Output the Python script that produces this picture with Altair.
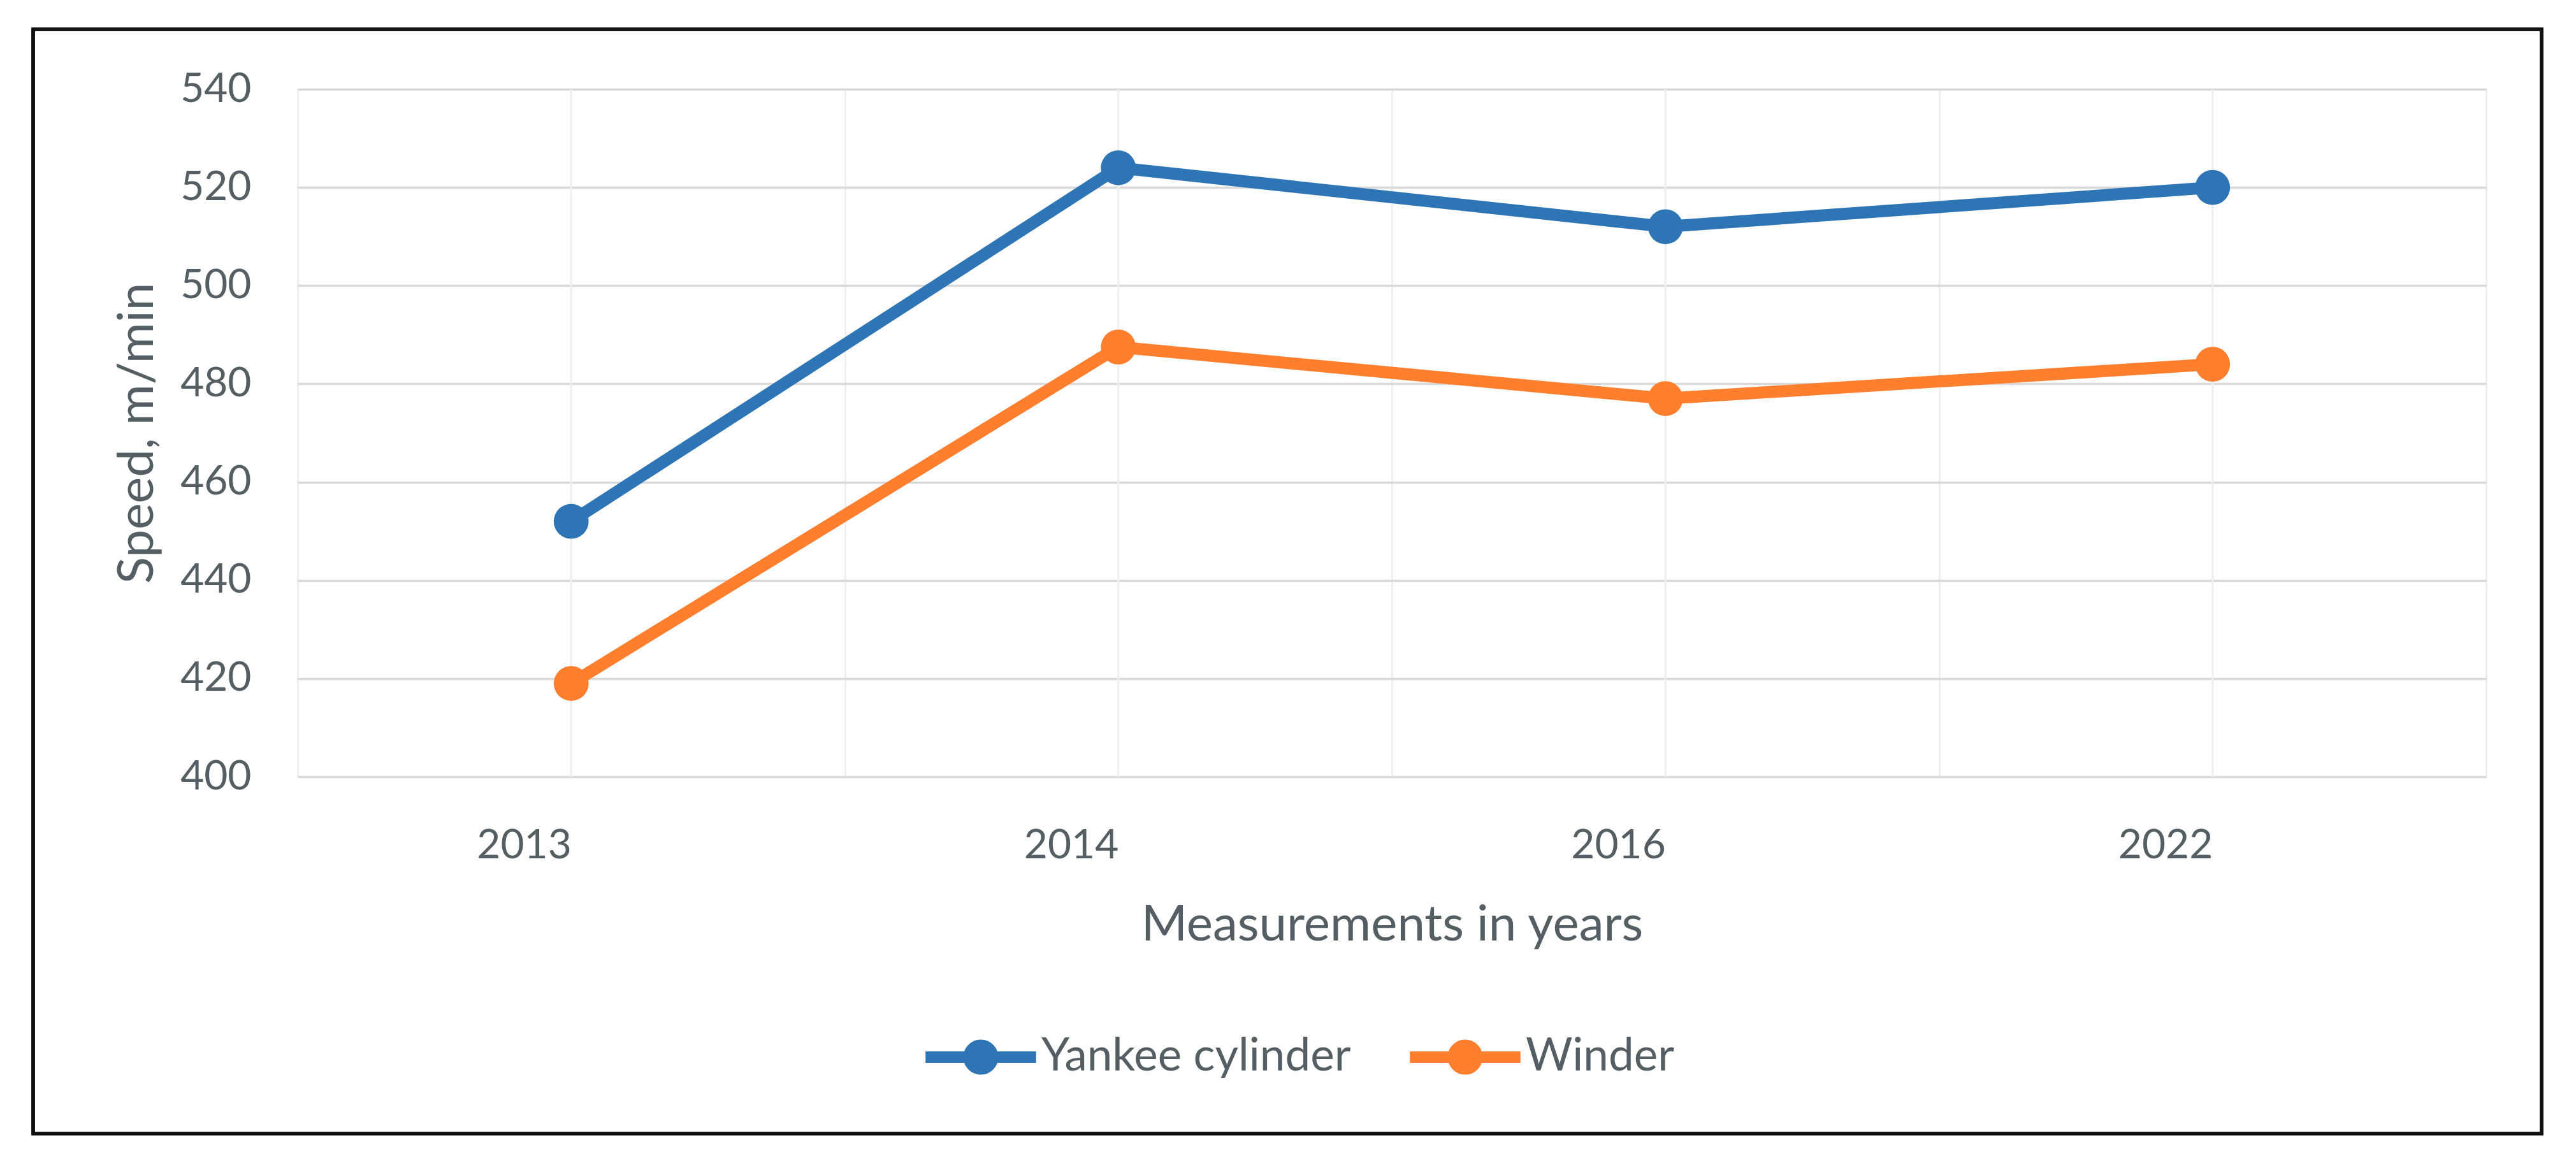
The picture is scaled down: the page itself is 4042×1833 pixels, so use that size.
import altair as alt
import pandas as pd

years = ["2013", "2014", "2016", "2022"]
yankee = [452, 524, 512, 520]
winder = [419, 487.5, 477, 484]
series_names = ["Yankee cylinder", "Winder"]
colors = ["#2E75B6", "#FF7F2F"]
y_ticks = [400, 420, 440, 460, 480, 500, 520, 540]

rows = []
for name, vals in zip(series_names, [yankee, winder]):
    for yr, v in zip(years, vals):
        rows.append({"Year": yr, "Speed": v, "Series": name})
df = pd.DataFrame(rows)
yr_df = pd.DataFrame({"Year": years})

FONT = "Lato"
TXT = "#555e63"

x_enc = alt.X(
    "Year:O",
    sort=years,
    scale=alt.Scale(paddingInner=0, paddingOuter=0),
    axis=alt.Axis(
        title="Measurements in years",
        labelAngle=0,
        tickBand="extent",
        grid=True,
        gridColor="#efefef",
        gridWidth=3,
        ticks=False,
        domain=False,
        labelPadding=108,
        titlePadding=54,
    ),
)
y_scale = alt.Scale(domain=[400, 540], nice=False, zero=False)
y_enc = alt.Y(
    "Speed:Q",
    scale=y_scale,
    axis=alt.Axis(
        title="Speed, m/min",
        values=y_ticks,
        grid=True,
        gridColor="#d9d9d9",
        gridWidth=3.5,
        ticks=False,
        domain=False,
        labelPadding=73,
        titlePadding=27,
    ),
)
color_scale = alt.Scale(domain=series_names, range=colors)

sym_path = ("M -1 -0.095 L 1 -0.095 L 1 0.095 L -1 0.095 Z "
            "M 0.31 0 A 0.31 0.31 0 1 1 -0.31 0 A 0.31 0.31 0 1 1 0.31 0 Z")

rules = alt.Chart(yr_df).mark_rule(color="#efefef", strokeWidth=3).encode(
    x=alt.X("Year:O", sort=years)
)

lines = alt.Chart(df).mark_line(strokeWidth=19).encode(
    x=alt.X("Year:O", sort=years),
    y=alt.Y("Speed:Q"),
    color=alt.Color("Series:N", scale=color_scale, sort=series_names),
)

points = alt.Chart(df).mark_point(filled=True, size=3000, opacity=1).encode(
    x=x_enc,
    y=y_enc,
    color=alt.Color(
        "Series:N",
        scale=color_scale,
        sort=series_names,
        legend=alt.Legend(
            title=None,
            orient="none",
            legendX=985,
            legendY=1432,
            direction="horizontal",
            symbolType=sym_path,
            symbolSize=29584,
            labelOffset=8,
            columnPadding=90,
            labelFont=FONT,
            labelFontSize=71,
            labelColor=TXT,
            labelLimit=2000,
        ),
    ),
)

frame = alt.Chart(yr_df).mark_rect(
    fillOpacity=0, stroke="#111111", strokeWidth=5
).encode(
    x=alt.value(-415), x2=alt.value(3521), y=alt.value(-94), y2=alt.value(1639)
)

chart = alt.layer(rules, points, lines, frame).properties(
    width=3434,
    height=1079,
    padding={"left": 467, "top": 140, "right": 141, "bottom": 614},
    autosize=alt.AutoSizeParams(type="none"),
    background="white",
).configure_view(
    stroke=None
).configure_axis(
    labelFont=FONT,
    labelFontSize=64,
    labelColor=TXT,
    titleFont=FONT,
    titleFontSize=78,
    titleFontWeight="normal",
    titleColor=TXT,
)

chart.save("out.html", embed_options={"renderer": "svg", "actions": False})
